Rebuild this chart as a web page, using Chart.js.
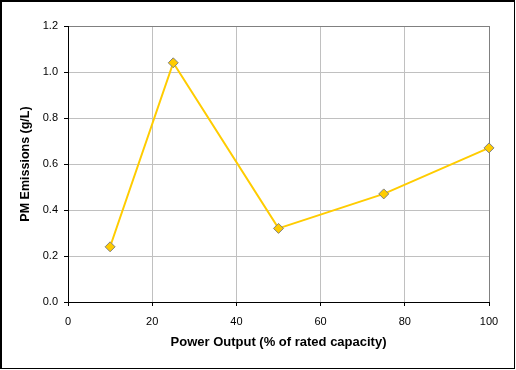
<!DOCTYPE html>
<html>
<head>
<meta charset="utf-8">
<script src="https://cdn.jsdelivr.net/npm/chart.js@4.4.0/dist/chart.umd.min.js"></script>
<style>
  html, body { margin: 0; padding: 0; background: #fff; }
  canvas { display: block; }
</style>
</head>
<body>
<canvas id="pmChart" width="516" height="370"></canvas>
<script>
// values
const powerOutput = [10, 25, 50, 75, 100];
const pmEmissions = [0.24, 1.04, 0.32, 0.47, 0.67];
const xTitle = 'Power Output (% of rated capacity)';
const yTitle = 'PM Emissions (g/L)';

const fontFamily = '"Liberation Sans", Arial, sans-serif';

// Excel style black frame round the whole picture
const frame = {
  id: 'frame',
  afterDraw(chart) {
    const ctx = chart.ctx;
    ctx.save();
    ctx.fillStyle = '#000';
    ctx.fillRect(0, 0, 2, 369);
    ctx.fillRect(0, 0, 515, 2);
    ctx.fillRect(514, 0, 1, 369);
    ctx.fillRect(0, 368, 515, 1);
    ctx.restore();
  }
};

const ctx = document.getElementById('pmChart').getContext('2d');

new Chart(ctx, {
  type: 'line',
  data: {
    datasets: [{
      label: 'PM',
      data: powerOutput.map((x, i) => ({ x: x, y: pmEmissions[i] })),
      borderColor: '#FFCC00',
      borderWidth: 2,
      backgroundColor: '#FFCC00',
      pointStyle: 'rectRot',
      pointRadius: 5,
      pointBackgroundColor: '#FFCC00',
      pointBorderColor: '#808080',
      pointBorderWidth: 1,
      tension: 0,
      clip: false
    }]
  },
  options: {
    responsive: false,
    animation: false,
    layout: { padding: { left: 0, right: 27, top: 26, bottom: 0 } },
    plugins: {
      legend: { display: false },
      tooltip: { enabled: false }
    },
    scales: {
      x: {
        type: 'linear',
        min: 0,
        max: 100,
        afterFit: s => { s.height = 68; },
        border: { color: '#000', width: 1 },
        grid: {
          color: c => c.tick && c.tick.value === 100 ? '#808080' : '#c0c0c0',
          tickColor: '#000',
          tickLength: 4
        },
        ticks: {
          stepSize: 20,
          padding: 9,
          color: '#000',
          font: { family: fontFamily, size: 11 }
        },
        title: {
          display: true,
          text: xTitle,
          color: '#000',
          padding: { top: 0, bottom: 20 },
          font: { family: fontFamily, size: 13, weight: 'bold' }
        }
      },
      y: {
        min: 0,
        max: 1.2,
        afterFit: s => { s.width = 68; },
        border: { color: '#000', width: 1 },
        grid: {
          color: c => c.tick && Math.abs(c.tick.value - 1.2) < 1e-6 ? '#808080' : '#c0c0c0',
          tickColor: '#000',
          tickLength: 4
        },
        ticks: {
          stepSize: 0.2,
          padding: 6,
          color: '#000',
          font: { family: fontFamily, size: 11 },
          callback: v => v.toFixed(1)
        },
        title: {
          display: true,
          text: yTitle,
          color: '#000',
          padding: { top: 18, bottom: 0 },
          font: { family: fontFamily, size: 12.5, weight: 'bold' }
        }
      }
    }
  },
  plugins: [frame]
});
</script>
</body>
</html>
